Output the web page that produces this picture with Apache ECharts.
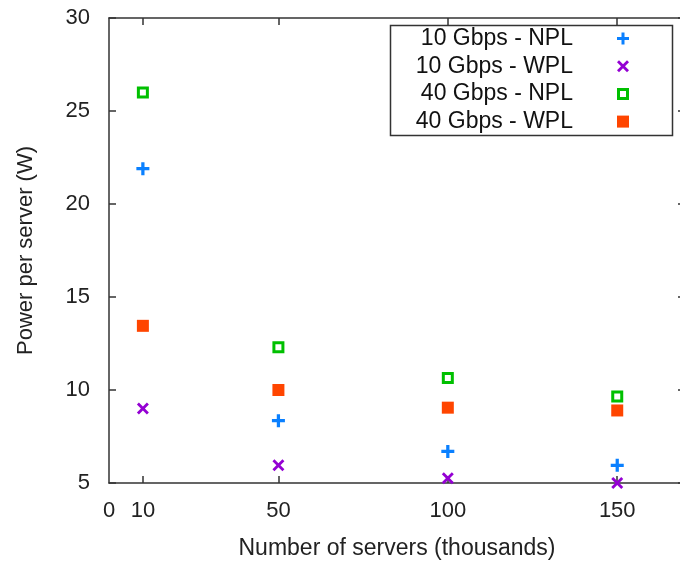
<!DOCTYPE html>
<html>
<head>
<meta charset="utf-8">
<script src="https://cdn.jsdelivr.net/npm/echarts@6/dist/echarts.min.js"></script>
<style>html,body{margin:0;padding:0;background:#fff}#c{width:680px;height:567px}</style>
</head>
<body>
<div id="c"></div>
<script>
var servers = [10, 50, 100, 150];
var npl10 = [21.9, 8.35, 6.7, 5.95];
var wpl10 = [9.0, 5.95, 5.25, 5.0];
var npl40 = [26.0, 12.3, 10.65, 9.65];
var wpl40 = [13.45, 10.0, 9.05, 8.9];
var seriesNames = ['10 Gbps - NPL', '10 Gbps - WPL', '40 Gbps - NPL', '40 Gbps - WPL'];
var xLabelValues = [0, 10, 50, 100, 150];
var xTickValues = [10, 50, 100, 150];

var FONT = 'Liberation Sans';
var plusPath = 'path://M4.5,0H7.5V4.5H12V7.5H7.5V12H4.5V7.5H0V4.5H4.5Z';
var crossPath = 'path://M0,2L2,0L6,4L10,0L12,2L8,6L12,10L10,12L6,8L2,12L0,10L4,6Z';
var emptySqPath = 'path://M0,0H12V12H0Z M3,3V9H9V3Z';
var fullSqPath = 'path://M0,0H12V12H0Z';

function pairs(vals) {
  return servers.map(function (x, i) { return [x, vals[i]]; });
}

var axisLine = { show: true, onZero: false, lineStyle: { color: '#333', width: 1.5 } };
var tick = { show: true, inside: true, length: 7, lineStyle: { color: '#333', width: 1.5 } };

var chart = echarts.init(document.getElementById('c'), null, { renderer: 'canvas' });
chart.setOption({
  animation: false,
  backgroundColor: '#fff',
  grid: { left: 109, top: 18, width: 576, bottom: 84, containLabel: false, outerBoundsMode: 'none' },
  xAxis: [{
    type: 'value', min: 0, max: 170, position: 'bottom',
    name: 'Number of servers (thousands)', nameLocation: 'middle', nameGap: 54,
    nameTextStyle: { fontFamily: FONT, fontSize: 23, color: '#222' },
    axisLine: axisLine,
    axisTick: Object.assign({}, tick, { customValues: xTickValues }),
    axisLabel: { customValues: xLabelValues, fontFamily: FONT, fontSize: 22, color: '#222', margin: 17 },
    splitLine: { show: false }
  }, {
    type: 'value', min: 0, max: 170, position: 'top',
    axisLine: axisLine,
    axisTick: Object.assign({}, tick, { customValues: xTickValues }),
    axisLabel: { show: false },
    splitLine: { show: false }
  }],
  yAxis: [{
    type: 'value', min: 5, max: 30, interval: 5, position: 'left',
    name: 'Power per server (W)', nameLocation: 'middle', nameGap: 72,
    nameTextStyle: { fontFamily: FONT, fontSize: 22, color: '#222' },
    axisLine: axisLine, axisTick: tick,
    axisLabel: { fontFamily: FONT, fontSize: 22, color: '#222', margin: 19 },
    splitLine: { show: false }
  }, {
    type: 'value', min: 5, max: 30, interval: 5, position: 'right',
    axisLine: axisLine, axisTick: tick,
    axisLabel: { show: false },
    splitLine: { show: false }
  }],
  legend: {
    orient: 'vertical', align: 'right', right: 51, top: 27,
    padding: 0, itemGap: 4.7, itemWidth: 12, itemHeight: 12,
    data: seriesNames,
    textStyle: { fontFamily: FONT, fontSize: 23, lineHeight: 22, color: '#111', padding: [0, 39, 0, 0] }
  },
  graphic: [{
    type: 'rect', left: 388, top: 23, z: 100,
    shape: { width: 282, height: 110 },
    style: { fill: null, stroke: '#333', lineWidth: 1.5 }
  }],
  series: [
    { name: seriesNames[0], type: 'scatter', data: pairs(npl10), symbol: plusPath, symbolSize: 13, symbolKeepAspect: true, itemStyle: { color: '#0a80ff', opacity: 1 } },
    { name: seriesNames[1], type: 'scatter', data: pairs(wpl10), symbol: crossPath, symbolSize: 12, symbolKeepAspect: true, itemStyle: { color: '#9400d3', opacity: 1 } },
    { name: seriesNames[2], type: 'scatter', data: pairs(npl40), symbol: emptySqPath, symbolSize: 12, symbolKeepAspect: true, itemStyle: { color: '#00c000', opacity: 1 } },
    { name: seriesNames[3], type: 'scatter', data: pairs(wpl40), symbol: fullSqPath, symbolSize: 12, symbolKeepAspect: true, itemStyle: { color: '#ff4500', opacity: 1 } }
  ]
});
</script>
</body>
</html>
